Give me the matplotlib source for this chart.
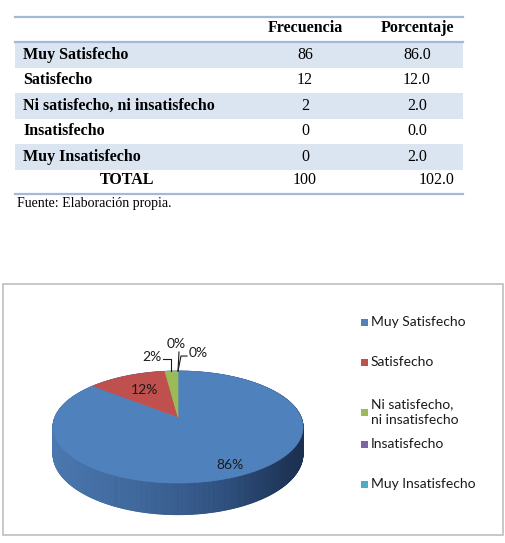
import numpy as np
import matplotlib
matplotlib.use("Agg")
import matplotlib.pyplot as plt
from matplotlib.patches import Rectangle, Polygon
from matplotlib.collections import PolyCollection
from matplotlib.colors import LinearSegmentedColormap

# --- data -------------------------------------------------------------
categorias = ["Muy Satisfecho", "Satisfecho", "Ni satisfecho, ni insatisfecho",
              "Insatisfecho", "Muy Insatisfecho"]
frecuencia = [86, 12, 2, 0, 0]
porcentaje = [86.0, 12.0, 2.0, 0.0, 2.0]
total_frecuencia = 100
total_porcentaje = 102.0
encabezados = ["Frecuencia", "Porcentaje"]
fuente = "Fuente: Elaboración propia."
leyenda = ["Muy Satisfecho", "Satisfecho", "Ni satisfecho,\nni insatisfecho",
           "Insatisfecho", "Muy Insatisfecho"]
colores = ["#4f81bd", "#c0504d", "#9bbb59", "#8064a2", "#4bacc6"]

# --- figure: one axes in pixel units ----------------------------------
fig = plt.figure(figsize=(5.05, 5.43), dpi=100)
ax = fig.add_axes([0, 0, 1, 1])
ax.set_xlim(0, 505)
ax.set_ylim(543, 0)
ax.axis("off")

SERIF = "Liberation Serif"
SANS = "Lato"

# --- table ------------------------------------------------------------
LINEA = "#a3b9d6"
SOMBRA = "#dbe5f1"
x0, x1 = 15, 463
col_frec, col_pct = 305, 417
fila0, alto = 42, 25.5

ax.plot([x0, x1], [17, 17], color=LINEA, lw=1.6)
ax.plot([x0, x1], [fila0, fila0], color=LINEA, lw=1.6)
for txt, xc in zip(encabezados, [col_frec, col_pct]):
    ax.text(xc, 28, txt, family=SERIF, weight="bold", fontsize=11.5,
            ha="center", va="center")

for i, (cat, f, p) in enumerate(zip(categorias, frecuencia, porcentaje)):
    top = fila0 + i * alto
    if i % 2 == 0:
        ax.add_patch(Rectangle((x0, top), x1 - x0, alto, facecolor=SOMBRA,
                               edgecolor="none", zorder=0))
    yc = top + alto / 2
    ax.text(23, yc, cat, family=SERIF, weight="bold", fontsize=11.5,
            ha="left", va="center")
    ax.text(col_frec, yc, f"{f}", family=SERIF, fontsize=11.5,
            ha="center", va="center")
    ax.text(col_pct, yc, f"{p:.1f}", family=SERIF, fontsize=11.5,
            ha="center", va="center")

y_tot = fila0 + len(categorias) * alto + 11
ax.text(127, y_tot, "TOTAL", family=SERIF, weight="bold", fontsize=11.5,
        ha="center", va="center")
ax.text(col_frec, y_tot, f"{total_frecuencia}", family=SERIF, fontsize=11.5,
        ha="center", va="center")
ax.text(455, y_tot, f"{total_porcentaje:.1f}", family=SERIF, fontsize=11.5,
        ha="right", va="center")
ax.plot([x0, x1], [194, 194], color=LINEA, lw=1.6)
ax.text(17, 204, fuente, family=SERIF, fontsize=10, ha="left", va="center")

# --- chart frame ------------------------------------------------------
ax.add_patch(Rectangle((3, 284), 500, 251, facecolor="white",
                       edgecolor="#bfbfbf", lw=1.2, zorder=0))

# --- 3D pie -----------------------------------------------------------
CX, CY, RX, RY, K, D = 178, 417, 123, 54.2, 0.179, 26


def proyectar(theta, r=1.0, z=0.0):
    v = -np.cos(theta) * r
    s = 1 - K * v
    return CX + RX * r * np.sin(theta) / s, CY + (RY * v + z) / s


total = sum(frecuencia)
bordes = np.concatenate([[0], np.cumsum(frecuencia)]) / total * 2 * np.pi

# side wall with shading from left to right
cmap = LinearSegmentedColormap.from_list(
    "lado", ["#4a77ae", "#3e679b", "#2f5181", "#1c3050"])
th = np.linspace(0, 2 * np.pi, 721)
xt, yt = proyectar(th)
xb, yb = proyectar(th, z=D)
quads, cols = [], []
for i in range(len(th) - 1):
    quads.append([(xt[i], yt[i]), (xt[i + 1], yt[i + 1]),
                  (xb[i + 1], yb[i + 1]), (xb[i], yb[i])])
    cols.append(cmap(np.clip((xt[i] - (CX - RX)) / (2 * RX), 0, 1)))
ax.add_collection(PolyCollection(quads, facecolors=cols, edgecolors=cols,
                                 lw=0.6, zorder=2))

# top face
for a0, a1, c in zip(bordes[:-1], bordes[1:], colores):
    if a1 <= a0:
        continue
    t = np.linspace(a0, a1, max(int((a1 - a0) * 120), 2))
    px, py = proyectar(t)
    pts = [(CX, CY)] + list(zip(px, py))
    ax.add_patch(Polygon(pts, closed=True, facecolor=c, edgecolor=c,
                         lw=0.5, zorder=3))

# data labels
etiquetas = [f"{round(v / total * 100)}%" for v in frecuencia]
mid = (bordes[:-1] + bordes[1:]) / 2
radio_etq = [0.85, 0.62]
for i in range(2):
    lx, ly = proyectar(mid[i], r=radio_etq[i])
    ax.text(lx, ly, etiquetas[i], family=SANS, fontsize=10, color="#1a1a1a",
            ha="center", va="center", zorder=5)

# small slices: labels outside with leader lines
ex, ey = proyectar(mid[2])
ax.plot([ex, ex, ex - 8], [ey, ey - 12, ey - 12], color="#1a1a1a",
        lw=0.8, zorder=5)
ax.text(ex - 10, ey - 14, etiquetas[2], family=SANS, fontsize=10,
        color="#1a1a1a", ha="right", va="center", zorder=5)
ex, ey = proyectar(mid[3])
ax.plot([ex, ex + 1], [ey, ey - 19], color="#1a1a1a", lw=0.8, zorder=5)
ax.text(ex - 2, ey - 27, etiquetas[3], family=SANS, fontsize=10,
        color="#1a1a1a", ha="center", va="center", zorder=5)
ex, ey = proyectar(mid[4])
ax.plot([ex, ex + 3, ex + 9], [ey, ey - 15, ey - 15], color="#1a1a1a",
        lw=0.8, zorder=5)
ax.text(ex + 11, ey - 18, etiquetas[4], family=SANS, fontsize=10,
        color="#1a1a1a", ha="left", va="center", zorder=5)

# legend
ley_y = [322, 362, 412, 444, 484]
for txt, c, yy in zip(leyenda, colores, ley_y):
    ax.add_patch(Rectangle((361, yy - 3.5), 7, 7, facecolor=c, edgecolor="none",
                           zorder=4))
    ax.text(371, yy, txt, family=SANS, fontsize=10, color="#1a1a1a",
            ha="left", va="center", linespacing=1.4, zorder=4)

fig.savefig("out.png", dpi=100)
